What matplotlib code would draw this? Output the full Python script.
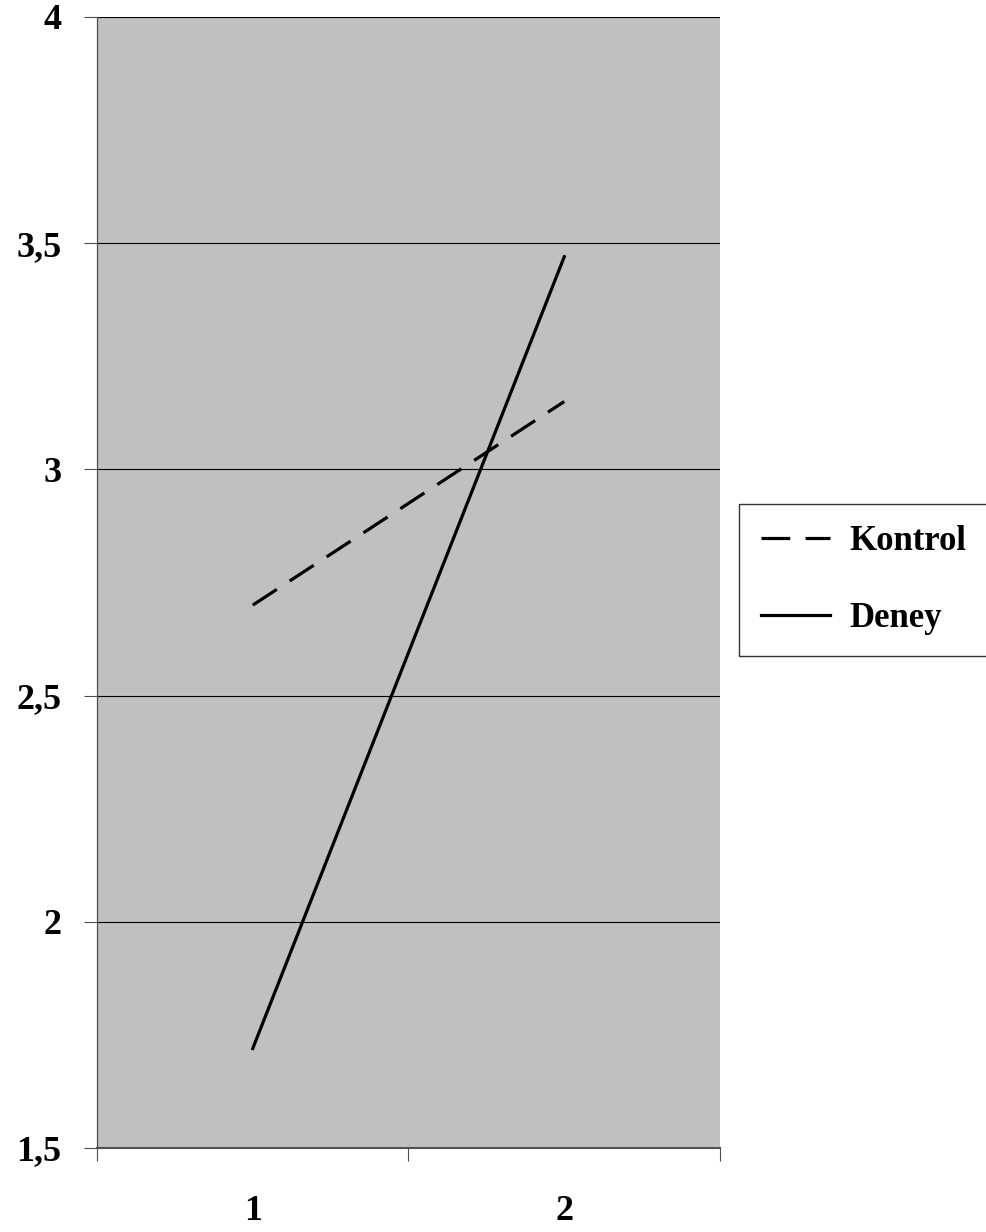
import matplotlib
matplotlib.use("Agg")
import matplotlib.pyplot as plt

plt.rcParams['font.family'] = ['Liberation Serif', 'DejaVu Serif']
plt.rcParams['font.weight'] = 'bold'

categories = [1, 2]
kontrol = [2.70, 3.15]
deney = [1.72, 3.47]
y_ticks = [1.5, 2.0, 2.5, 3.0, 3.5, 4.0]
y_labels = ['1,5', '2', '2,5', '3', '3,5', '4']

fig = plt.figure(figsize=(9.87, 12.32), dpi=100)
ax = fig.add_axes([97 / 987, 1 - 1148 / 1232, (720 - 97) / 987, (1148 - 17) / 1232])
ax.set_facecolor('#c0c0c0')

# horizontal gridlines (the 1,5 one is the axis itself)
for y in y_ticks[1:]:
    ax.axhline(y, color='black', lw=0.8, zorder=1)

ax.plot(categories, kontrol, color='black', lw=2.3, dashes=(9.0, 4.8),
        solid_capstyle='butt', label='Kontrol', zorder=3)
ax.plot(categories, deney, color='black', lw=2.3, label='Deney', zorder=3)

ax.set_xlim(0.5, 2.5)
ax.set_ylim(1.5, 4.0)
ax.set_yticks(y_ticks)
ax.set_yticklabels(y_labels)
ax.set_xticks([0.5, 1.5, 2.5])
ax.set_xticks(categories, minor=True)
ax.set_xticklabels(['', '', ''])
ax.set_xticklabels([str(c) for c in categories], minor=True)

ax.tick_params(axis='y', direction='out', length=9.5, width=0.8, color='#505050',
               pad=16, labelsize=26)
ax.tick_params(axis='x', which='major', direction='out', length=9, width=0.8,
               color='#505050')
ax.tick_params(axis='x', which='minor', length=0, pad=34, labelsize=26)

for s in ['top', 'right']:
    ax.spines[s].set_visible(False)
ax.spines['left'].set_color('#505050')
ax.spines['bottom'].set_color('#505050')
ax.spines['left'].set_linewidth(0.9)
ax.spines['bottom'].set_linewidth(1.5)

leg = fig.legend(loc='center left', bbox_to_anchor=(739 / 987, 1 - 580 / 1232),
                 fontsize=25, frameon=True, fancybox=False, edgecolor='black',
                 handlelength=2.0, handletextpad=0.55, labelspacing=1.25,
                 borderpad=0.62, borderaxespad=0)
leg.get_frame().set_linewidth(1.0)
leg.get_frame().set_facecolor('white')

fig.savefig('out.png', dpi=100, facecolor='white')
